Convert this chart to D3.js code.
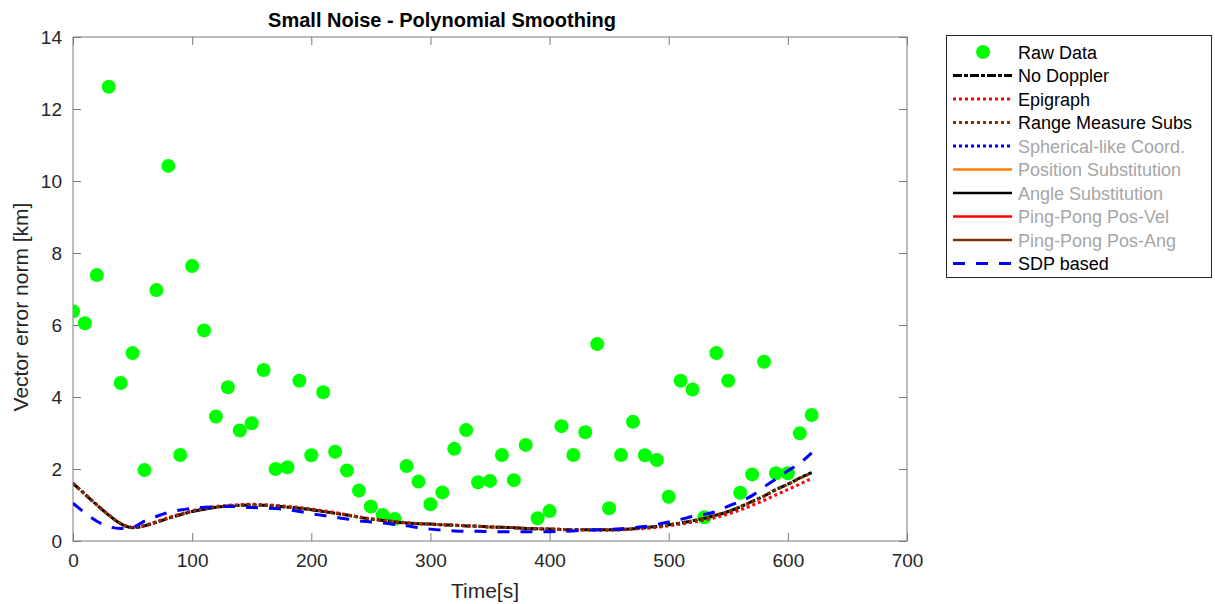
<!DOCTYPE html>
<html>
<head>
<meta charset="utf-8">
<script src="https://cdn.jsdelivr.net/npm/d3@7"></script>
<style>
  body { margin: 0; background: #fff; }
  svg { font-family: "Liberation Sans", Arial, sans-serif; }
</style>
</head>
<body>
<div id="chart"></div>
<script>
// time samples every 10 s
const timeSec = d3.range(0, 630, 10);

const rawData = [6.38, 6.05, 7.39, 12.62, 4.39, 5.22, 1.97, 6.97, 10.42, 2.39,
  7.64, 5.85, 3.46, 4.27, 3.07, 3.27, 4.75, 2.0, 2.05, 4.45,
  2.38, 4.13, 2.48, 1.96, 1.40, 0.96, 0.72, 0.61, 2.08, 1.65,
  1.02, 1.35, 2.56, 3.08, 1.63, 1.67, 2.39, 1.69, 2.67, 0.63,
  0.83, 3.19, 2.39, 3.02, 5.47, 0.91, 2.39, 3.31, 2.38, 2.25,
  1.23, 4.45, 4.21, 0.66, 5.22, 4.45, 1.34, 1.85, 4.98, 1.88,
  1.88, 2.99, 3.50];

const noDoppler = [1.60, 1.30, 1.00, 0.72, 0.48, 0.37, 0.42, 0.52, 0.63, 0.73,
  0.82, 0.88, 0.94, 0.97, 0.99, 1.00, 0.99, 0.97, 0.94, 0.91,
  0.87, 0.82, 0.77, 0.72, 0.66, 0.61, 0.57, 0.53, 0.50, 0.48,
  0.47, 0.45, 0.44, 0.42, 0.41, 0.39, 0.38, 0.37, 0.35, 0.34,
  0.33, 0.32, 0.31, 0.31, 0.31, 0.31, 0.32, 0.34, 0.37, 0.40,
  0.45, 0.50, 0.56, 0.63, 0.72, 0.82, 0.95, 1.10, 1.25, 1.43,
  1.58, 1.75, 1.90];

const epigraph = [1.60, 1.31, 1.01, 0.73, 0.49, 0.38, 0.43, 0.54, 0.65, 0.75,
  0.84, 0.91, 0.96, 0.99, 1.01, 1.02, 1.01, 0.99, 0.96, 0.93,
  0.89, 0.84, 0.79, 0.73, 0.67, 0.62, 0.58, 0.54, 0.51, 0.48,
  0.47, 0.45, 0.44, 0.42, 0.41, 0.39, 0.38, 0.37, 0.35, 0.34,
  0.33, 0.32, 0.31, 0.31, 0.30, 0.30, 0.31, 0.33, 0.35, 0.38,
  0.42, 0.47, 0.52, 0.58, 0.66, 0.75, 0.86, 0.99, 1.13, 1.28,
  1.43, 1.58, 1.74];

const rangeSubs = [1.60, 1.30, 1.00, 0.72, 0.48, 0.37, 0.42, 0.52, 0.63, 0.73,
  0.82, 0.88, 0.94, 0.97, 0.99, 1.00, 0.99, 0.97, 0.94, 0.91,
  0.87, 0.82, 0.77, 0.72, 0.66, 0.61, 0.57, 0.53, 0.50, 0.48,
  0.47, 0.45, 0.44, 0.42, 0.41, 0.39, 0.38, 0.37, 0.35, 0.34,
  0.33, 0.32, 0.31, 0.31, 0.31, 0.31, 0.32, 0.34, 0.37, 0.40,
  0.45, 0.50, 0.56, 0.63, 0.72, 0.82, 0.95, 1.09, 1.24, 1.42,
  1.57, 1.74, 1.89];

const sdpBased = [1.05, 0.78, 0.55, 0.40, 0.35, 0.38, 0.55, 0.68, 0.79, 0.86,
  0.91, 0.94, 0.95, 0.96, 0.95, 0.93, 0.92, 0.90, 0.87, 0.82,
  0.76, 0.71, 0.66, 0.61, 0.56, 0.53, 0.50, 0.46, 0.42, 0.37,
  0.33, 0.30, 0.28, 0.27, 0.27, 0.26, 0.26, 0.26, 0.26, 0.26,
  0.26, 0.27, 0.28, 0.30, 0.31, 0.32, 0.34, 0.37, 0.40, 0.46,
  0.53, 0.60, 0.68, 0.74, 0.82, 0.97, 1.10, 1.26, 1.50, 1.72,
  1.95, 2.16, 2.45];

const xTicks = [0, 100, 200, 300, 400, 500, 600, 700];
const yTicks = [0, 2, 4, 6, 8, 10, 12, 14];

const legendItems = [
  { name: "Raw Data", type: "marker", color: "#00ff00", active: true },
  { name: "No Doppler", color: "#000000", dash: "9,2,4,2", width: 3, active: true },
  { name: "Epigraph", color: "#ff0000", dash: "3,3", width: 3, active: true },
  { name: "Range Measure Subs", color: "#7f3300", dash: "3,3", width: 3, active: true },
  { name: "Spherical-like Coord.", color: "#0000ff", dash: "3,3", width: 3, active: false },
  { name: "Position Substitution", color: "#ff8000", dash: null, width: 2.5, active: false },
  { name: "Angle Substitution", color: "#000000", dash: null, width: 2.5, active: false },
  { name: "Ping-Pong Pos-Vel", color: "#ff0000", dash: null, width: 2.5, active: false },
  { name: "Ping-Pong Pos-Ang", color: "#7f3300", dash: null, width: 2.5, active: false },
  { name: "SDP based", color: "#0000ff", dash: "12,11", width: 3, active: true }
];

const width = 1215, height = 604;
const margin = { top: 37, right: 308, bottom: 63, left: 73 };
const plotW = width - margin.left - margin.right;   // 834
const plotH = height - margin.top - margin.bottom;  // 504

const svg = d3.select("#chart").append("svg")
  .attr("width", width).attr("height", height);

const x = d3.scaleLinear().domain([0, 700]).range([margin.left, margin.left + plotW]);
const y = d3.scaleLinear().domain([0, 14]).range([margin.top + plotH, margin.top]);

svg.append("defs").append("clipPath").attr("id", "clip")
  .append("rect")
  .attr("x", margin.left).attr("y", margin.top)
  .attr("width", plotW).attr("height", plotH);

// axes box with inward ticks
const axisColor = "#7a7a7a";
const textColor = "#262626";
const tickLen = 8;

svg.append("rect")
  .attr("x", margin.left).attr("y", margin.top)
  .attr("width", plotW).attr("height", plotH)
  .attr("fill", "none").attr("stroke", axisColor).attr("stroke-width", 1);

function styleAxis(g) {
  g.select(".domain").remove();
  g.selectAll(".tick line").attr("stroke", axisColor);
  g.selectAll(".tick text").attr("fill", textColor).style("font-size", "19px");
}

svg.append("g")
  .attr("transform", `translate(0,${margin.top + plotH})`)
  .call(d3.axisBottom(x).tickValues(xTicks).tickSizeInner(-tickLen).tickSizeOuter(0).tickPadding(13))
  .call(styleAxis);

svg.append("g")
  .attr("transform", `translate(0,${margin.top})`)
  .call(d3.axisTop(x).tickValues(xTicks).tickSizeInner(-tickLen).tickSizeOuter(0).tickFormat(""))
  .call(styleAxis);

svg.append("g")
  .attr("transform", `translate(${margin.left},0)`)
  .call(d3.axisLeft(y).tickValues(yTicks).tickSizeInner(-tickLen).tickSizeOuter(0).tickPadding(11))
  .call(styleAxis);

svg.append("g")
  .attr("transform", `translate(${margin.left + plotW},0)`)
  .call(d3.axisRight(y).tickValues(yTicks).tickSizeInner(-tickLen).tickSizeOuter(0).tickFormat(""))
  .call(styleAxis);

// labels
svg.append("text")
  .attr("x", 442).attr("y", 27)
  .attr("text-anchor", "middle")
  .style("font-size", "20px").style("font-weight", "bold")
  .attr("fill", "#000")
  .text("Small Noise - Polynomial Smoothing");

svg.append("text")
  .attr("x", 485).attr("y", 598)
  .attr("text-anchor", "middle")
  .style("font-size", "21px")
  .attr("fill", textColor)
  .text("Time[s]");

svg.append("text")
  .attr("transform", "rotate(-90)")
  .attr("x", -307).attr("y", 28)
  .attr("text-anchor", "middle")
  .style("font-size", "21px")
  .attr("fill", textColor)
  .text("Vector error norm [km]");

// data
const plot = svg.append("g").attr("clip-path", "url(#clip)");

plot.selectAll("circle").data(rawData).enter().append("circle")
  .attr("cx", (d, i) => x(timeSec[i]))
  .attr("cy", d => y(d))
  .attr("r", 7)
  .attr("fill", "#00ff00");

const line = d3.line()
  .x((d, i) => x(timeSec[i]))
  .y(d => y(d))
  .curve(d3.curveMonotoneX);

const series = [
  { values: noDoppler, item: legendItems[1] },
  { values: epigraph, item: legendItems[2] },
  { values: rangeSubs, item: legendItems[3] },
  { values: sdpBased, item: legendItems[9] }
];

series.forEach(s => {
  plot.append("path")
    .datum(s.values)
    .attr("d", line)
    .attr("fill", "none")
    .attr("stroke", s.item.color)
    .attr("stroke-width", s.item.width)
    .attr("stroke-dasharray", s.item.dash);
});

// legend
const lg = svg.append("g");
lg.append("rect")
  .attr("x", 946.5).attr("y", 35.5)
  .attr("width", 265).attr("height", 242)
  .attr("fill", "#fff").attr("stroke", "#262626").attr("stroke-width", 1);

legendItems.forEach((d, i) => {
  const cy = 52 + i * 23.5;
  if (d.type === "marker") {
    lg.append("circle").attr("cx", 983).attr("cy", cy).attr("r", 7).attr("fill", d.color);
  } else {
    lg.append("line")
      .attr("x1", 953).attr("x2", 1012)
      .attr("y1", cy).attr("y2", cy)
      .attr("stroke", d.color)
      .attr("stroke-width", d.width)
      .attr("stroke-dasharray", d.dash);
  }
  lg.append("text")
    .attr("x", 1018).attr("y", cy + 6.5)
    .style("font-size", "18px")
    .attr("fill", d.active ? "#000" : "#a6a6a6")
    .text(d.name);
});
</script>
</body>
</html>
